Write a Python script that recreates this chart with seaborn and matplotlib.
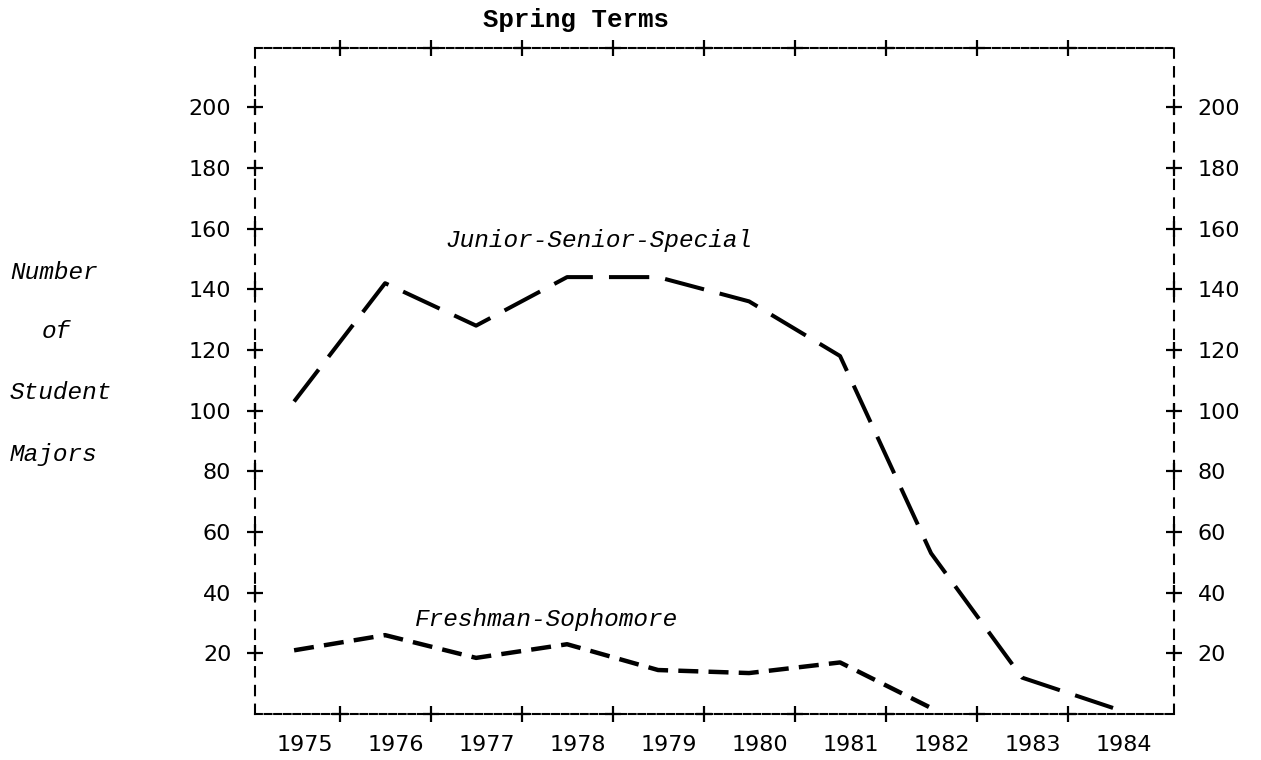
import matplotlib
matplotlib.use("Agg")
import matplotlib.pyplot as plt
import seaborn as sns
import pandas as pd

# spring terms and number of student majors
years = [1975, 1976, 1977, 1978, 1979, 1980, 1981, 1982, 1983, 1984]
junior_senior_special = [103, 142, 128, 144, 144, 136, 118, 53, 12, 2]
fresh_years = [1975, 1976, 1977, 1978, 1979, 1980, 1981, 1982]
freshman_sophomore = [21, 26, 18.5, 23, 14.5, 13.5, 17, 2]
y_ticks = [20, 40, 60, 80, 100, 120, 140, 160, 180, 200]
ylabel_lines = ["Number", "of", "Student", "Majors"]

TYPE_FONT = "Liberation Mono"


def main():
    sns.set_style("white")
    plt.rcParams["font.family"] = ["DejaVu Sans"]

    jss = pd.DataFrame({"Year": years, "Majors": junior_senior_special})
    fs = pd.DataFrame({"Year": fresh_years, "Majors": freshman_sophomore})

    fig = plt.figure(figsize=(12.61, 7.6), dpi=100)
    ax = fig.add_axes([0.2022, 0.0605, 0.7288, 0.8763])

    sns.lineplot(data=jss, x="Year", y="Majors", ax=ax, color="black",
                 lw=2.9, linestyle=(0, (10, 4)))
    sns.lineplot(data=fs, x="Year", y="Majors", ax=ax, color="black",
                 lw=3.2, linestyle=(0, (4.5, 2.3)))

    ax.set_xlim(years[0] - 0.43, years[-1] + 0.67)
    ax.set_ylim(0, 219.5)

    # year labels sit a bit right of the data points, like the typed original
    ax.set_xticks([y + 0.12 for y in years])
    ax.set_xticklabels([str(y) for y in years])
    ax.set_yticks(y_ticks)
    ax.tick_params(axis="both", length=0, labelsize=16, colors="black")
    ax.tick_params(axis="x", pad=15)
    ax.tick_params(axis="y", pad=17, labelright=True)
    ax.set_xlabel("")
    ax.set_ylabel("")

    # dashed frame
    for side in ["left", "right"]:
        ax.spines[side].set_visible(True)
        ax.spines[side].set_linestyle((0, (4.5, 4.5)))
        ax.spines[side].set_linewidth(1.5)
        ax.spines[side].set_color("black")
    for side in ["top", "bottom"]:
        ax.spines[side].set_visible(True)
        ax.spines[side].set_linestyle((0, (3.3, 1.3)))
        ax.spines[side].set_linewidth(1.5)
        ax.spines[side].set_color("black")

    # "+" tick crosses on the frame
    x0, x1 = ax.get_xlim()
    y0, y1 = ax.get_ylim()
    plus = dict(marker="+", markersize=11, mew=1.6, color="black",
                ls="none", clip_on=False, zorder=5)
    for xv in [x0, x1]:
        ax.plot([xv] * len(y_ticks), y_ticks, **plus)
    mids = [y + 0.5 for y in years[:-1]]
    for yv in [y0, y1]:
        ax.plot(mids, [yv] * len(mids), **plus)

    ax.text(years[0] + 1.66, 156, "Junior-Senior-Special", ha="left",
            va="center", family=TYPE_FONT, style="italic", fontsize=17.6,
            color="black")
    ax.text(years[0] + 1.33, 31, "Freshman-Sophomore", ha="left",
            va="center", family=TYPE_FONT, style="italic", fontsize=17.6,
            color="black")

    fig.text(576 / 1261, 1 - 20.5 / 760, "Spring Terms", ha="center",
             va="center", family=TYPE_FONT, fontsize=18.5, weight="bold",
             color="black")

    for line, ypx, xpx in zip(ylabel_lines, [273, 331, 392, 454],
                              [10, 42, 10, 10]):
        fig.text(xpx / 1261, 1 - ypx / 760, line, ha="left", va="center",
                 family=TYPE_FONT, style="italic", fontsize=17.6,
                 color="black")

    fig.savefig("out.png", dpi=100)


if __name__ == "__main__":
    main()
